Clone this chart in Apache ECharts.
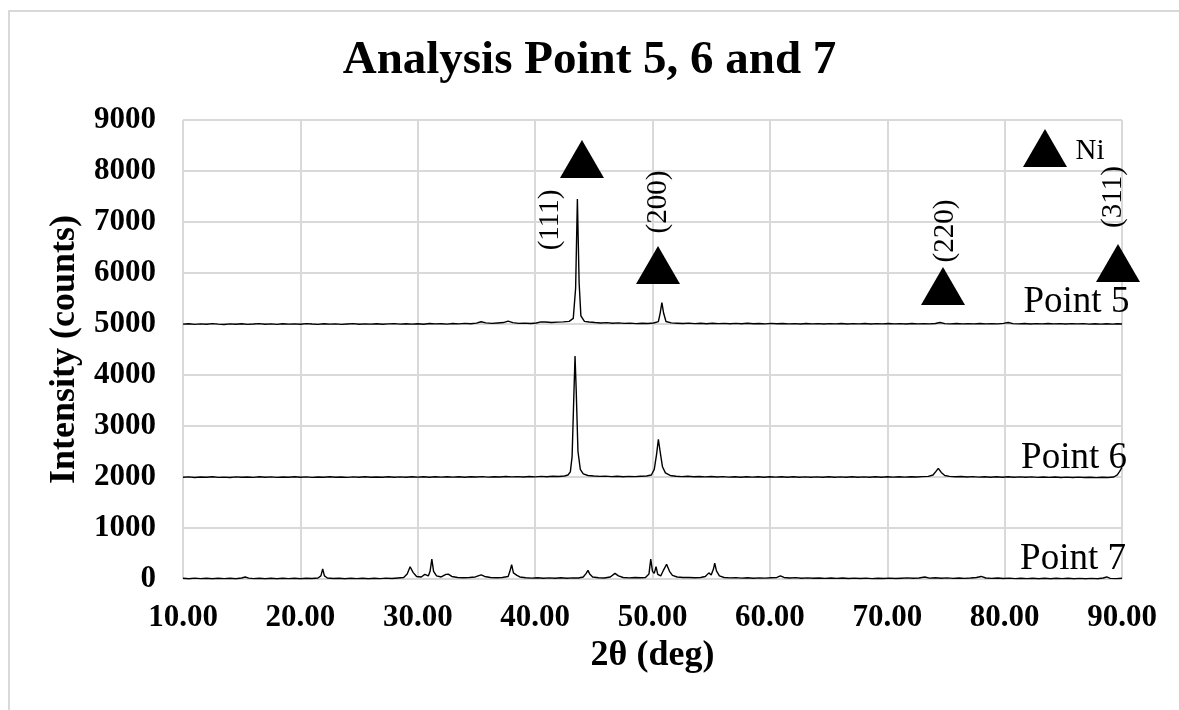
<!DOCTYPE html>
<html>
<head>
<meta charset="utf-8">
<script src="https://cdn.jsdelivr.net/npm/echarts@6/dist/echarts.min.js"></script>
<style>
html,body{margin:0;padding:0;background:#fff;}
#chart{width:1179px;height:710px;}
</style>
</head>
<body>
<div id="chart"></div>
<script>
const titleText = 'Analysis Point 5, 6 and 7';
const xName = '2θ (deg)';
const yName = 'Intensity (counts)';

const point5 = [[10,4998],[10.5,5006],[11,4993],[11.5,5003],[12,4996],[12.5,5008],[13,4998],[13.5,4990],[14,5003],[14.5,4996],[15,5006],[15.5,4993],[16,5000],[16.5,5008],[17,4996],[17.5,5003],[18,4992],[18.5,5006],[19,4998],[19.5,5003],[20,4996],[20.5,5008],[21,5000],[21.5,4993],[22,5006],[22.5,4998],[23,5003],[23.5,4992],[24,5000],[24.5,5008],[25,4996],[25.5,5003],[26,4998],[26.5,5006],[27,4994],[27.5,5002],[28,5008],[28.5,4998],[29,5004],[29.5,4998],[30,5006],[30.5,4996],[31,5010],[31.5,5002],[32,5006],[32.5,4998],[33,5010],[33.5,5002],[34,5012],[34.5,5004],[35,5018],[35.4,5045],[35.8,5022],[36.3,5012],[36.8,5020],[37.3,5028],[37.7,5058],[38.1,5026],[38.6,5012],[39.1,5018],[39.6,5010],[40.1,5020],[40.5,5042],[40.9,5038],[41.4,5028],[41.9,5036],[42.4,5042],[42.9,5052],[43.25,5110],[43.45,5700],[43.6,7450],[43.75,5800],[43.9,5160],[44.2,5052],[44.6,5038],[45.1,5028],[45.6,5020],[46.1,5026],[46.6,5016],[47.1,5022],[47.6,5012],[48.1,5018],[48.6,5008],[49.1,5016],[49.6,5010],[50.1,5020],[50.5,5048],[50.65,5210],[50.8,5420],[50.95,5210],[51.15,5048],[51.6,5022],[52.1,5016],[52.6,5010],[53.1,5018],[53.6,5008],[54.1,5014],[54.6,5006],[55.1,5016],[55.6,5008],[56.1,5013],[56.6,5004],[57.1,5012],[57.6,5006],[58.1,5014],[58.6,5004],[59.1,5010],[59.6,5002],[60.1,5012],[60.6,5004],[61.1,5010],[61.6,5002],[62.1,5008],[62.6,5000],[63.1,5010],[63.6,5002],[64.1,5008],[64.6,5000],[65.1,5008],[65.6,5002],[66.1,5010],[66.6,5000],[67.1,5008],[67.6,5002],[68.1,5010],[68.6,5000],[69.1,5008],[69.6,5002],[70.1,5010],[70.6,5002],[71.1,5008],[71.6,5000],[72.1,5010],[72.6,5002],[73.1,5008],[73.6,5002],[74.1,5010],[74.5,5030],[74.9,5008],[75.4,5002],[75.9,5010],[76.4,5002],[76.9,5008],[77.4,5002],[77.9,5010],[78.4,5002],[78.9,5008],[79.4,5002],[79.9,5012],[80.3,5030],[80.7,5008],[81.2,5002],[81.7,5010],[82.2,5000],[82.7,5008],[83.2,5002],[83.7,5010],[84.2,5002],[84.7,5008],[85.2,5000],[85.7,5008],[86.2,5002],[86.7,5008],[87.2,4998],[87.7,5006],[88.2,4998],[88.7,5004],[89.2,4998],[89.6,5004],[90,5000]];

const point6 = [[10,1995],[10.5,2003],[11,1990],[11.5,2000],[12,1994],[12.5,2004],[13,1992],[13.5,1998],[14,1990],[14.5,2002],[15,1994],[15.5,2000],[16,1992],[16.5,2004],[17,1996],[17.5,2002],[18,1992],[18.5,2000],[19,1994],[19.5,2004],[20,1996],[20.5,2002],[21,1992],[21.5,2000],[22,1996],[22.5,2004],[23,1994],[23.5,2000],[24,1992],[24.5,2002],[25,1996],[25.5,2004],[26,1994],[26.5,2000],[27,1996],[27.5,2006],[28,1996],[28.5,2002],[29,1994],[29.5,2004],[30,1998],[30.5,2006],[31,1996],[31.5,2004],[32,1998],[32.5,2006],[33,1998],[33.5,2004],[34,1996],[34.5,2006],[35,2000],[35.5,2008],[36,1998],[36.5,2006],[37,2000],[37.5,2010],[38,2002],[38.5,2008],[39,2000],[39.5,2010],[40,2002],[40.5,2012],[41,2006],[41.5,2014],[42,2010],[42.5,2020],[42.8,2040],[43.0,2100],[43.15,2400],[43.3,3600],[43.4,4370],[43.5,3700],[43.65,2500],[43.85,2150],[44.1,2060],[44.5,2030],[45,2020],[45.5,2012],[46,2018],[46.5,2008],[47,2014],[47.5,2006],[48,2012],[48.5,2008],[49,2016],[49.5,2020],[49.9,2040],[50.15,2150],[50.35,2450],[50.5,2740],[50.65,2500],[50.85,2200],[51.1,2080],[51.5,2030],[52,2015],[52.5,2008],[53,2014],[53.5,2004],[54,2010],[54.5,2002],[55,2010],[55.5,2000],[56,2008],[56.5,1998],[57,2006],[57.5,1996],[58,2004],[58.5,1998],[59,2006],[59.5,1996],[60,2004],[60.5,1998],[61,2006],[61.5,1996],[62,2004],[62.5,1996],[63,2002],[63.5,1994],[64,2002],[64.5,1996],[65,2004],[65.5,1994],[66,2002],[66.5,1996],[67,2004],[67.5,1994],[68,2002],[68.5,1996],[69,2004],[69.5,1996],[70,2004],[70.5,1998],[71,2006],[71.5,1998],[72,2006],[72.5,2000],[73,2008],[73.5,2012],[73.9,2040],[74.15,2110],[74.35,2170],[74.6,2090],[74.9,2030],[75.3,2012],[75.8,2004],[76.3,2010],[76.8,2000],[77.3,2008],[77.8,1998],[78.3,2006],[78.8,1996],[79.3,2004],[79.8,1996],[80.3,2004],[80.8,1994],[81.3,2002],[81.8,1994],[82.3,2002],[82.8,1992],[83.3,2000],[83.8,1992],[84.3,2000],[84.8,1990],[85.3,1998],[85.8,1990],[86.3,1998],[86.8,1990],[87.3,1996],[87.8,1988],[88.3,1996],[88.8,1990],[89.3,2000],[89.6,2040],[89.8,2110],[90,2190]];

const point7 = [[10,15],[10.5,5],[11,18],[11.5,8],[12,15],[12.5,5],[13,14],[13.5,8],[14,16],[14.5,6],[15,20],[15.3,40],[15.6,18],[16,8],[16.5,15],[17,6],[17.5,14],[18,5],[18.5,15],[19,8],[19.5,16],[20,5],[20.5,14],[21,10],[21.5,20],[21.75,60],[21.9,200],[22.05,60],[22.3,20],[22.8,10],[23.3,16],[23.8,6],[24.3,14],[24.8,8],[25.3,16],[25.8,6],[26.3,14],[26.8,8],[27.3,18],[27.8,10],[28.3,20],[28.8,30],[29.1,100],[29.35,240],[29.6,130],[29.9,50],[30.3,40],[30.6,90],[30.75,120],[30.9,60],[31.05,150],[31.2,390],[31.35,150],[31.6,60],[32,40],[32.4,90],[32.6,95],[32.9,50],[33.4,30],[33.9,25],[34.4,30],[34.9,40],[35.4,80],[35.7,50],[36.2,30],[36.7,25],[37.2,30],[37.7,50],[37.85,150],[38.0,280],[38.15,120],[38.45,70],[38.7,40],[39.2,25],[39.7,18],[40.2,25],[40.7,15],[41.2,22],[41.7,14],[42.2,24],[42.7,16],[43.2,22],[43.7,20],[44.1,40],[44.35,110],[44.5,170],[44.65,100],[44.9,40],[45.4,25],[45.9,20],[46.4,40],[46.8,110],[47.1,60],[47.5,30],[48,22],[48.5,28],[49,24],[49.4,30],[49.7,100],[49.85,390],[50.0,150],[50.15,110],[50.3,240],[50.45,90],[50.7,60],[50.95,180],[51.2,290],[51.45,150],[51.7,70],[52.1,40],[52.6,30],[53.1,28],[53.6,24],[54.1,30],[54.5,50],[54.8,120],[55.0,80],[55.2,200],[55.3,310],[55.45,160],[55.7,60],[56.1,30],[56.6,22],[57.1,26],[57.6,18],[58.1,24],[58.6,16],[59.1,22],[59.6,18],[60.1,24],[60.6,30],[60.9,60],[61.2,30],[61.7,20],[62.2,26],[62.7,16],[63.2,22],[63.7,14],[64.2,20],[64.7,12],[65.2,20],[65.7,12],[66.2,20],[66.7,10],[67.2,18],[67.7,10],[68.2,18],[68.7,8],[69.2,16],[69.7,10],[70.2,18],[70.7,10],[71.2,16],[71.7,22],[72.2,14],[72.7,20],[73.2,40],[73.6,18],[74.1,24],[74.6,14],[75.1,22],[75.6,12],[76.1,20],[76.6,12],[77.1,20],[77.6,30],[78.0,50],[78.4,20],[78.9,12],[79.4,20],[79.9,10],[80.4,18],[80.9,8],[81.4,16],[81.9,8],[82.4,15],[82.9,6],[83.4,14],[83.9,6],[84.4,14],[84.9,8],[85.4,14],[85.9,6],[86.4,12],[86.9,6],[87.4,12],[87.9,6],[88.4,20],[88.7,40],[89,12],[89.5,8],[90,14]];

// Ni peak markers (triangles): [2θ, intensity]
const triangleMarks = [[43.99,8235],[50.47,6157],[74.75,5745],[89.66,6196],[83.44,8451]];
// Miller index labels: [2θ, intensity, text]
const millerLabels = [[41.27,7039,'(111)'],[50.47,7392,'(200)'],[74.92,6824,'(220)'],[89.23,7490,'(311)']];
// Series name labels: [2θ, intensity, text]
const seriesLabels = [[86.12,5420,'Point 5'],[85.91,2370,'Point 6'],[85.83,380,'Point 7']];
const legendLabel = [[87.27,8392,'Ni']];

const FONT = 'Liberation Serif';
const chart = echarts.init(document.getElementById('chart'), null, {renderer:'canvas'});

function lineSeries(name, data){
  return {name:name, type:'line', data:data, showSymbol:false, symbol:'none',
    lineStyle:{color:'#000', width:1.4, opacity:1}, animation:false, z:3, silent:true};
}
function textSeries(items, fontSize, rotate){
  return {type:'scatter', symbolSize:1, itemStyle:{color:'rgba(0,0,0,0)', opacity:1}, animation:false, silent:true, z:5,
    data: items.map(d => ({value:[d[0],d[1]], name:d[2]})),
    label:{show:true, position:'inside', formatter:'{b}', rotate:rotate, color:'#000', opacity:1,
      fontFamily:FONT, fontSize:fontSize, fontWeight:'normal', textBorderWidth:0}};
}

chart.setOption({
  backgroundColor:'#fff',
  animation:false,
  title:{text:titleText, left:'center', top:37, padding:[0,0,0,12],
    textStyle:{fontFamily:FONT, fontSize:47, fontWeight:'bold', color:'#000'}},
  graphic:[{type:'polyline', shape:{points:[[9,720],[9,11],[1200,11]]},
    style:{fill:'none', stroke:'#d9d9d9', lineWidth:2}, silent:true}],
  grid:{left:183, right:57, top:120, bottom:131, containLabel:false},
  xAxis:{type:'value', min:10, max:90, interval:10,
    name:xName, nameLocation:'middle', nameGap:28,
    nameTextStyle:{fontFamily:FONT, fontSize:36, fontWeight:'bold', color:'#000'},
    axisLine:{show:false}, axisTick:{show:false},
    axisLabel:{margin:23, fontFamily:FONT, fontSize:31, fontWeight:'bold', color:'#000',
      formatter:v => v.toFixed(2)},
    splitLine:{show:true, lineStyle:{color:'#d9d9d9', width:2}}},
  yAxis:{type:'value', min:0, max:9000, interval:1000,
    name:yName, nameLocation:'middle', nameGap:92, nameRotate:90,
    nameTextStyle:{fontFamily:FONT, fontSize:36, fontWeight:'bold', color:'#000'},
    axisLine:{show:false}, axisTick:{show:false},
    axisLabel:{margin:27, fontFamily:FONT, fontSize:31, fontWeight:'bold', color:'#000',
      formatter:v => String(v)},
    splitLine:{show:true, lineStyle:{color:'#d9d9d9', width:2}}},
  series:[
    lineSeries('Point 5', point5),
    lineSeries('Point 6', point6),
    lineSeries('Point 7', point7),
    {type:'scatter', symbol:'triangle', symbolSize:[44,38], itemStyle:{color:'#000', opacity:1},
      data:triangleMarks, animation:false, silent:true, z:4},
    textSeries(millerLabels, 29, 90),
    textSeries(seriesLabels, 37, 0),
    textSeries(legendLabel, 29, 0)
  ]
});
</script>
</body>
</html>
